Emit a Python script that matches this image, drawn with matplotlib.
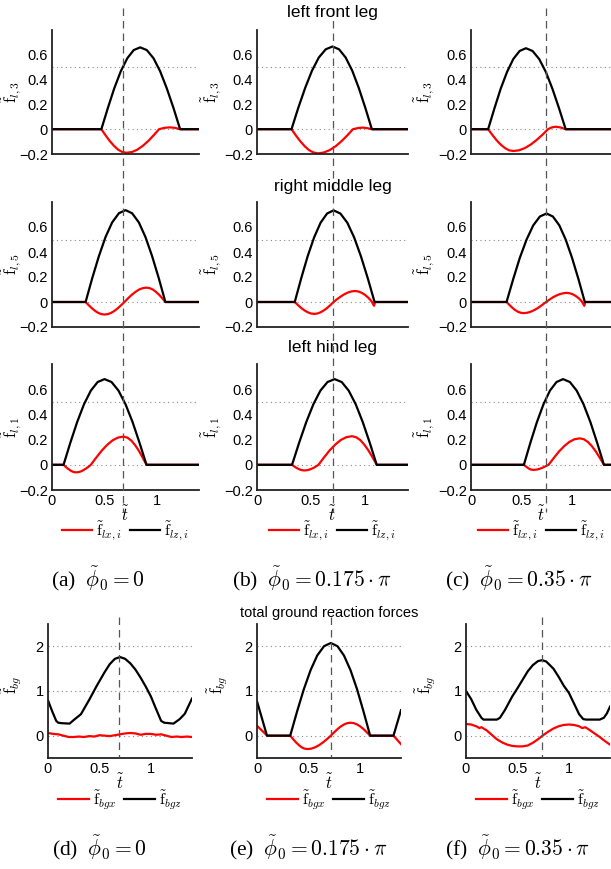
import matplotlib
matplotlib.use('Agg')
import matplotlib.pyplot as plt
from matplotlib.lines import Line2D
from matplotlib.transforms import blended_transform_factory

plt.rcParams['font.family'] = ['Liberation Sans', 'DejaVu Sans']
plt.rcParams['mathtext.fontset'] = 'cm'

# ---- leg forces, column (a) phi0 = 0 ----
front_a_tz = [0, 0.47, 0.532, 0.593, 0.655, 0.717, 0.778, 0.84, 0.903, 0.967, 1.03, 1.093, 1.157, 1.22, 1.4]
front_a_fz = [0, 0, 0.171, 0.33, 0.467, 0.572, 0.638, 0.66, 0.638, 0.572, 0.467, 0.33, 0.171, 0, 0]
front_a_tx = [0, 0.47, 0.51, 0.55, 0.59, 0.63, 0.67, 0.71, 0.762, 0.813, 0.865, 0.917, 0.968, 1.02,
              1.07, 1.12, 1.17, 1.22, 1.4]
front_a_fx = [0, 0, -0.049, -0.095, -0.134, -0.165, -0.184, -0.19, -0.184, -0.165, -0.134, -0.095,
              -0.049, 0, 0.011, 0.015, 0.011, 0, 0]

middle_a_tz = [0, 0.32, 0.383, 0.447, 0.51, 0.573, 0.637, 0.70, 0.763, 0.827, 0.89, 0.953, 1.017, 1.08, 1.4]
middle_a_fz = [0, 0, 0.19, 0.368, 0.52, 0.637, 0.71, 0.735, 0.71, 0.637, 0.52, 0.368, 0.19, 0, 0]
middle_a_tx = [0, 0.32, 0.35, 0.38, 0.41, 0.44, 0.47, 0.50, 0.532, 0.563, 0.595, 0.627, 0.658, 0.69,
               0.725, 0.76, 0.795, 0.83, 0.865, 0.90, 0.93, 0.96, 0.99, 1.02, 1.05, 1.08, 1.4]
middle_a_fx = [0, 0, -0.026, -0.05, -0.071, -0.087, -0.097, -0.10, -0.097, -0.087, -0.071, -0.05,
               -0.026, 0, 0.03, 0.058, 0.081, 0.1, 0.111, 0.115, 0.111, 0.1, 0.081, 0.058, 0.03, 0, 0]

hind_a_tz = [0, 0.11, 0.175, 0.24, 0.305, 0.37, 0.435, 0.50, 0.567, 0.633, 0.70, 0.767, 0.833, 0.90, 1.4]
hind_a_fz = [0, 0, 0.176, 0.34, 0.481, 0.589, 0.657, 0.68, 0.657, 0.589, 0.481, 0.34, 0.176, 0, 0]
hind_a_tx = [0, 0.11, 0.13, 0.15, 0.17, 0.19, 0.21, 0.23, 0.253, 0.277, 0.30, 0.323, 0.347, 0.37,
             0.422, 0.473, 0.525, 0.577, 0.628, 0.68, 0.717, 0.753, 0.79, 0.827, 0.863, 0.90, 1.4]
hind_a_fx = [0, 0, -0.016, -0.03, -0.042, -0.052, -0.058, -0.06, -0.058, -0.052, -0.042, -0.03,
             -0.016, 0, 0.058, 0.112, 0.158, 0.194, 0.216, 0.224, 0.216, 0.194, 0.158, 0.112,
             0.058, 0, 0]

# ---- column (b) phi0 = 0.175 pi ----
front_b_tz = [0, 0.32, 0.383, 0.447, 0.51, 0.573, 0.637, 0.70, 0.761, 0.822, 0.883, 0.943, 1.004, 1.065, 1.4]
front_b_fz = [0, 0, 0.173, 0.334, 0.472, 0.578, 0.644, 0.667, 0.644, 0.578, 0.472, 0.334, 0.173, 0, 0]
front_b_tx = [0, 0.32, 0.361, 0.402, 0.443, 0.483, 0.524, 0.565, 0.619, 0.673, 0.728, 0.782, 0.836,
              0.89, 0.935, 0.98, 1.025, 1.065, 1.4]
front_b_fx = [0, 0, -0.051, -0.098, -0.138, -0.169, -0.188, -0.195, -0.188, -0.169, -0.138, -0.098,
              -0.051, 0, 0.009, 0.013, 0.008, 0, 0]

middle_b_tz = [0, 0.35, 0.41, 0.47, 0.53, 0.59, 0.65, 0.71, 0.773, 0.837, 0.90, 0.963, 1.027, 1.09, 1.4]
middle_b_fz = [0, 0, 0.19, 0.367, 0.518, 0.635, 0.708, 0.733, 0.708, 0.635, 0.518, 0.367, 0.19, 0, 0]
middle_b_tx = [0, 0.35, 0.38, 0.41, 0.44, 0.47, 0.50, 0.53, 0.56, 0.59, 0.62, 0.65, 0.68, 0.71,
               0.743, 0.777, 0.81, 0.843, 0.877, 0.91, 0.94, 0.97, 1.0, 1.03, 1.06, 1.085, 1.095, 1.4]
middle_b_fx = [0, 0, -0.025, -0.048, -0.067, -0.082, -0.092, -0.095, -0.092, -0.082, -0.067, -0.048,
               -0.025, 0, 0.023, 0.044, 0.062, 0.076, 0.085, 0.088, 0.084, 0.074, 0.058, 0.036,
               0.008, -0.03, 0, 0]

hind_b_tz = [0, 0.325, 0.391, 0.457, 0.523, 0.588, 0.654, 0.72, 0.785, 0.85, 0.915, 0.98, 1.045, 1.11, 1.4]
hind_b_fz = [0, 0, 0.176, 0.34, 0.481, 0.589, 0.657, 0.68, 0.657, 0.589, 0.481, 0.34, 0.176, 0, 0]
hind_b_tx = [0, 0.325, 0.344, 0.363, 0.383, 0.402, 0.421, 0.44, 0.462, 0.483, 0.505, 0.527, 0.548,
             0.57, 0.622, 0.673, 0.725, 0.777, 0.828, 0.88, 0.918, 0.957, 0.995, 1.033, 1.072, 1.11, 1.4]
hind_b_fx = [0, 0, -0.012, -0.023, -0.032, -0.039, -0.043, -0.045, -0.043, -0.039, -0.032, -0.023,
             -0.012, 0, 0.059, 0.114, 0.16, 0.197, 0.219, 0.227, 0.219, 0.197, 0.16, 0.114, 0.059, 0, 0]

# ---- column (c) phi0 = 0.35 pi ----
front_c_tz = [0, 0.17, 0.233, 0.295, 0.358, 0.42, 0.483, 0.545, 0.611, 0.677, 0.743, 0.808, 0.874, 0.94, 1.4]
front_c_fz = [0, 0, 0.169, 0.327, 0.462, 0.566, 0.631, 0.653, 0.631, 0.566, 0.462, 0.327, 0.169, 0, 0]
front_c_tx = [0, 0.17, 0.212, 0.253, 0.295, 0.337, 0.378, 0.42, 0.478, 0.535, 0.593, 0.65, 0.708,
              0.765, 0.80, 0.84, 0.89, 0.94, 1.4]
front_c_fx = [0, 0, -0.046, -0.088, -0.124, -0.152, -0.17, -0.176, -0.17, -0.152, -0.124, -0.088,
              -0.046, 0, 0.014, 0.02, 0.014, 0, 0]

middle_c_tz = [0, 0.353, 0.419, 0.485, 0.552, 0.618, 0.684, 0.75, 0.813, 0.877, 0.94, 1.003, 1.067, 1.13, 1.4]
middle_c_fz = [0, 0, 0.183, 0.354, 0.5, 0.613, 0.684, 0.708, 0.684, 0.613, 0.5, 0.354, 0.183, 0, 0]
middle_c_tx = [0, 0.353, 0.381, 0.409, 0.436, 0.464, 0.492, 0.52, 0.558, 0.595, 0.633, 0.67, 0.708,
               0.745, 0.779, 0.813, 0.848, 0.882, 0.916, 0.95, 0.98, 1.01, 1.04, 1.07, 1.10, 1.125,
               1.135, 1.4]
middle_c_fx = [0, 0, -0.023, -0.045, -0.063, -0.077, -0.086, -0.089, -0.086, -0.077, -0.063, -0.045,
               -0.023, 0, 0.019, 0.037, 0.052, 0.063, 0.07, 0.073, 0.07, 0.062, 0.048, 0.03, 0.005,
               -0.03, 0, 0]

hind_c_tz = [0, 0.525, 0.59, 0.655, 0.72, 0.784, 0.849, 0.914, 0.982, 1.049, 1.117, 1.185, 1.252, 1.32, 1.4]
hind_c_fz = [0, 0, 0.176, 0.34, 0.481, 0.589, 0.657, 0.68, 0.657, 0.589, 0.481, 0.34, 0.176, 0, 0]
hind_c_tx = [0, 0.525, 0.54, 0.556, 0.571, 0.586, 0.602, 0.617, 0.643, 0.668, 0.694, 0.719, 0.745,
             0.77, 0.822, 0.873, 0.925, 0.977, 1.028, 1.08, 1.12, 1.16, 1.20, 1.24, 1.28, 1.32, 1.4]
hind_c_fx = [0, 0, -0.01, -0.02, -0.028, -0.035, -0.039, -0.04, -0.039, -0.035, -0.028, -0.02,
             -0.01, 0, 0.054, 0.105, 0.148, 0.182, 0.203, 0.21, 0.203, 0.182, 0.148, 0.105, 0.054, 0, 0]

# ---- total ground reaction forces ----
total_a_tz = [0, 0.04, 0.08, 0.10, 0.13, 0.21, 0.25, 0.32, 0.40, 0.47, 0.50, 0.55, 0.60, 0.65,
              0.70, 0.75, 0.80, 0.85, 0.90, 0.95, 1.00, 1.05, 1.10, 1.13, 1.22, 1.28, 1.33, 1.40]
total_a_fz = [0.79, 0.55, 0.33, 0.29, 0.28, 0.27, 0.35, 0.48, 0.80, 1.10, 1.22, 1.42, 1.60, 1.72,
              1.76, 1.72, 1.62, 1.48, 1.30, 1.10, 0.88, 0.60, 0.33, 0.29, 0.27, 0.37, 0.49, 0.83]
total_a_tx = [0, 0.05, 0.1, 0.15, 0.2, 0.25, 0.3, 0.35, 0.4, 0.45, 0.5, 0.55, 0.6, 0.65, 0.7,
              0.75, 0.8, 0.85, 0.9, 0.95, 1.0, 1.05, 1.1, 1.15, 1.2, 1.25, 1.3, 1.35, 1.4]
total_a_fx = [0.06, 0.04, 0.03, 0.0, -0.03, -0.03, -0.02, -0.03, -0.01, -0.02, 0.01, 0.0, -0.01,
              0.01, 0.03, 0.05, 0.06, 0.05, 0.02, 0.04, 0.04, 0.02, 0.03, 0.0, -0.03, -0.02,
              -0.03, -0.02, -0.03]

total_b_tz = [0, 0.097, 0.323, 0.389, 0.455, 0.521, 0.586, 0.652, 0.718, 0.782, 0.845, 0.909,
              0.973, 1.036, 1.10, 1.327, 1.40]
total_b_fz = [0.77, 0, 0, 0.537, 1.038, 1.467, 1.797, 2.004, 2.075, 2.004, 1.797, 1.467,
              1.038, 0.537, 0, 0, 0.57]
total_b_tx = [0, 0.05, 0.10, 0.323, 0.351, 0.379, 0.407, 0.434, 0.462, 0.49, 0.528, 0.566, 0.604,
              0.642, 0.68, 0.718, 0.75, 0.782, 0.814, 0.846, 0.878, 0.91, 0.942, 0.973, 1.005,
              1.037, 1.068, 1.10, 1.327, 1.40]
total_b_fx = [0.22, 0.11, 0, 0, -0.078, -0.15, -0.212, -0.26, -0.29, -0.30, -0.29, -0.26, -0.212,
              -0.15, -0.078, 0, 0.075, 0.145, 0.205, 0.251, 0.28, 0.29, 0.28, 0.251, 0.205,
              0.145, 0.075, 0, 0, -0.19]

total_c_tz = [0, 0.05, 0.10, 0.15, 0.17, 0.30, 0.33, 0.38, 0.45, 0.50, 0.55, 0.60, 0.65, 0.70,
              0.74, 0.78, 0.85, 0.90, 0.95, 1.00, 1.05, 1.10, 1.14, 1.17, 1.30, 1.34, 1.37, 1.40]
total_c_fz = [1.0, 0.82, 0.58, 0.40, 0.36, 0.36, 0.40, 0.58, 0.88, 1.06, 1.25, 1.44, 1.58, 1.67,
              1.69, 1.66, 1.50, 1.32, 1.12, 0.96, 0.72, 0.48, 0.37, 0.36, 0.36, 0.40, 0.50, 0.65]
total_c_tx = [0, 0.05, 0.10, 0.13, 0.15, 0.20, 0.25, 0.30, 0.35, 0.40, 0.45, 0.50, 0.55, 0.60,
              0.65, 0.70, 0.75, 0.80, 0.85, 0.90, 0.95, 1.00, 1.05, 1.10, 1.13, 1.16, 1.20, 1.25,
              1.30, 1.35, 1.40]
total_c_fx = [0.26, 0.25, 0.21, 0.17, 0.19, 0.12, 0.02, -0.08, -0.15, -0.20, -0.23, -0.24, -0.24,
              -0.22, -0.16, -0.08, 0.01, 0.09, 0.16, 0.21, 0.24, 0.25, 0.24, 0.21, 0.17, 0.19,
              0.13, 0.05, -0.03, -0.12, -0.20]

# phase marker (dashed vertical line) per column
mark_legs = [0.68, 0.70, 0.745]
mark_total = [0.69, 0.72, 0.74]

leg_titles = ['left front leg', 'right middle leg', 'left hind leg']
leg_ylabels = [r'$\tilde{\mathrm{f}}_{l,3}$', r'$\tilde{\mathrm{f}}_{l,5}$', r'$\tilde{\mathrm{f}}_{l,1}$']
captions_top = [r'(a)  $\tilde{\phi}_0 = 0$', r'(b)  $\tilde{\phi}_0 = 0.175\cdot\pi$',
                r'(c)  $\tilde{\phi}_0 = 0.35\cdot\pi$']
captions_bot = [r'(d)  $\tilde{\phi}_0 = 0$', r'(e)  $\tilde{\phi}_0 = 0.175\cdot\pi$',
                r'(f)  $\tilde{\phi}_0 = 0.35\cdot\pi$']

leg_data = [
    [(front_a_tx, front_a_fx, front_a_tz, front_a_fz),
     (middle_a_tx, middle_a_fx, middle_a_tz, middle_a_fz),
     (hind_a_tx, hind_a_fx, hind_a_tz, hind_a_fz)],
    [(front_b_tx, front_b_fx, front_b_tz, front_b_fz),
     (middle_b_tx, middle_b_fx, middle_b_tz, middle_b_fz),
     (hind_b_tx, hind_b_fx, hind_b_tz, hind_b_fz)],
    [(front_c_tx, front_c_fx, front_c_tz, front_c_fz),
     (middle_c_tx, middle_c_fx, middle_c_tz, middle_c_fz),
     (hind_c_tx, hind_c_fx, hind_c_tz, hind_c_fz)],
]
total_data = [(total_a_tx, total_a_fx, total_a_tz, total_a_fz),
              (total_b_tx, total_b_fx, total_b_tz, total_b_fz),
              (total_c_tx, total_c_fx, total_c_tz, total_c_fz)]

W, H = 611, 869
fig = plt.figure(figsize=(W / 100, H / 100), dpi=100)


def px_axes(x0, y0, x1, y1):
    ax = fig.add_axes([x0 / W, 1 - y1 / H, (x1 - x0) / W, (y1 - y0) / H])
    ax.set_facecolor('none')
    for s in ['top', 'right']:
        ax.spines[s].set_visible(False)
    for s in ['left', 'bottom']:
        ax.spines[s].set_color('#222222')
        ax.spines[s].set_linewidth(1.3)
    ax.tick_params(length=0, labelsize=10.5, pad=3)
    return ax


def ftext(x, y, s, **kw):
    fig.text(x / W, 1 - y / H, s, ha='center', va='center', **kw)


def vmark(ax, t, y0, y1):
    tr = blended_transform_factory(ax.transData, fig.transFigure)
    fig.add_artist(Line2D([t, t], [1 - y0 / H, 1 - y1 / H], transform=tr,
                          color='#555555', lw=0.9, ls=(0, (6, 4))))


col_x = [(52, 199), (257, 408), (471, 612)]
row_y = [(30, 154), (202, 327), (364, 490)]
title_y = [13, 186, 348]
bot_x = [(48, 192), (257, 401), (466, 610)]
bot_y = (624, 758)
ylab_off = [28, 33, 34]
ylab_off_bot = [24, 27, 28]

for c in range(3):
    wpx = col_x[c][1] - col_x[c][0]
    for r in range(3):
        ax = px_axes(col_x[c][0], row_y[r][0], col_x[c][1], row_y[r][1])
        tx, fx, tz, fz = leg_data[c][r]
        ax.axhline(0, color='#888888', lw=0.8, ls=(0, (1, 3)))
        ax.axhline(0.5, color='#888888', lw=0.8, ls=(0, (1, 3)))
        ax.plot(tx, fx, color='red', lw=1.6, label=r'$\tilde{\mathrm{f}}_{lx,i}$')
        ax.plot(tz, fz, color='black', lw=1.6, label=r'$\tilde{\mathrm{f}}_{lz,i}$')
        ax.set_xlim(0, 1.4)
        ax.set_ylim(-0.2, 0.8)
        ax.set_yticks([-0.2, 0, 0.2, 0.4, 0.6])
        ax.set_yticklabels(['\u22120.2', '0', '0.2', '0.4', '0.6'])
        ax.set_ylabel(leg_ylabels[r], fontsize=12)
        ax.yaxis.set_label_coords(-ylab_off[c] / wpx, 0.5)
        ax.set_xticks([0, 0.5, 1])
        if r < 2:
            ax.set_xticklabels([])
        else:
            ax.set_xticklabels(['0', '0.5', '1'])
            ax.set_xlabel(r'$\tilde{t}$', fontsize=12, labelpad=-3)
            ax.legend(loc='center', bbox_to_anchor=((col_x[c][0] + col_x[c][1]) / 2 / W, 1 - 531 / H),
                      bbox_transform=fig.transFigure, ncol=2, frameon=False, fontsize=11.5,
                      handlelength=1.9, handletextpad=0.25, columnspacing=0.5)
        if r == 0:
            vmark(ax, mark_legs[c], 8, 512)

for r in range(3):
    ftext((col_x[1][0] + col_x[1][1]) / 2, title_y[r], leg_titles[r], fontsize=12.5)

cap_x = [98, 312, 519]
for c in range(3):
    ftext(cap_x[c], 579, captions_top[c], fontsize=15.5, family='Liberation Serif')

for c in range(3):
    wpx = bot_x[c][1] - bot_x[c][0]
    ax = px_axes(bot_x[c][0], bot_y[0], bot_x[c][1], bot_y[1])
    tx, fx, tz, fz = total_data[c]
    for g in [0, 1, 2]:
        ax.axhline(g, color='#888888', lw=0.8, ls=(0, (1, 3)))
    ax.plot(tx, fx, color='red', lw=1.6, label=r'$\tilde{\mathrm{f}}_{bgx}$')
    ax.plot(tz, fz, color='black', lw=1.6, label=r'$\tilde{\mathrm{f}}_{bgz}$')
    ax.set_xlim(0, 1.4)
    ax.set_ylim(-0.5, 2.5)
    ax.set_yticks([0, 1, 2])
    ax.set_yticklabels(['0', '1', '2'])
    ax.set_xticks([0, 0.5, 1])
    ax.set_xticklabels(['0', '0.5', '1'])
    ax.set_ylabel(r'$\tilde{\mathrm{f}}_{bg}$', fontsize=12)
    ax.yaxis.set_label_coords(-ylab_off_bot[c] / wpx, 0.55)
    ax.set_xlabel(r'$\tilde{t}$', fontsize=12, labelpad=-3)
    ax.legend(loc='center', bbox_to_anchor=((bot_x[c][0] + bot_x[c][1]) / 2 / W, 1 - 800 / H),
              bbox_transform=fig.transFigure, ncol=2, frameon=False, fontsize=11.5,
              handlelength=1.9, handletextpad=0.25, columnspacing=0.5)
    vmark(ax, mark_total[c], 617, 757)

ftext((bot_x[1][0] + bot_x[1][1]) / 2, 613, 'total ground reaction forces', fontsize=10.5)

cap_x2 = [99, 308, 518]
for c in range(3):
    ftext(cap_x2[c], 848, captions_bot[c], fontsize=15.5, family='Liberation Serif')

fig.savefig('out.png', dpi=100)
